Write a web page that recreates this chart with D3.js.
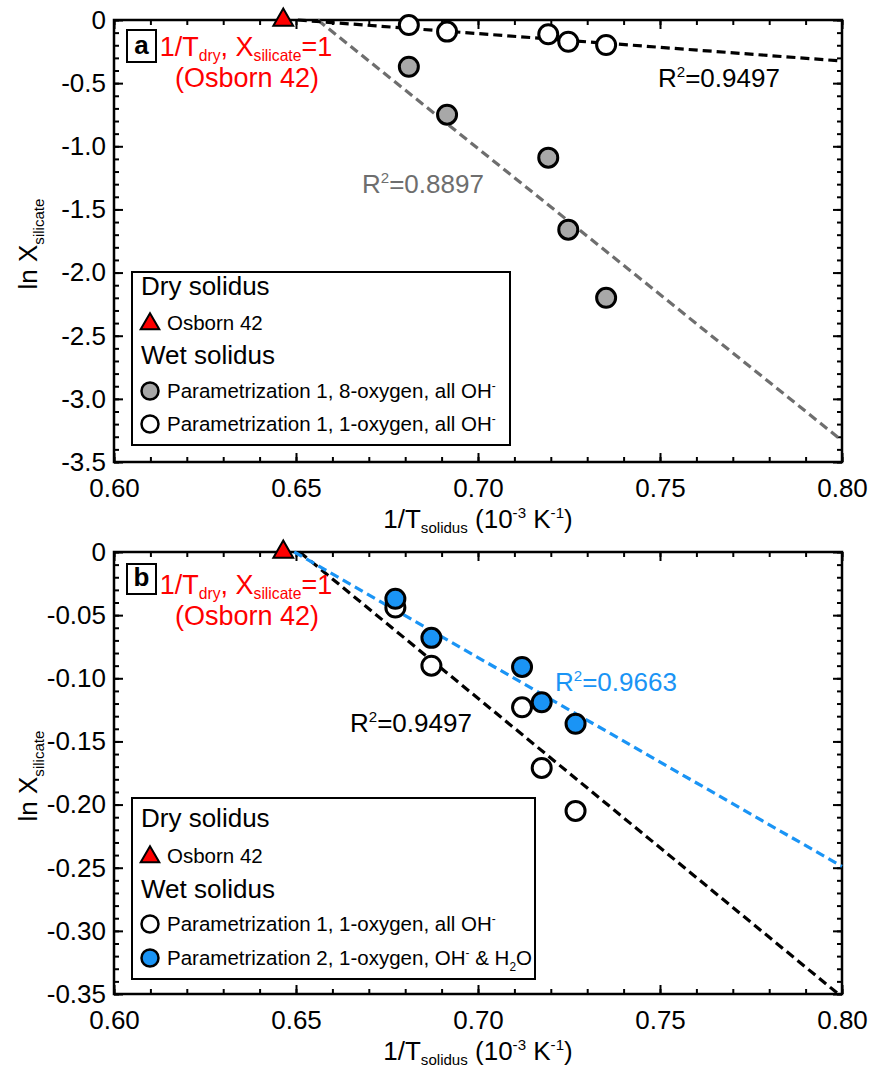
<!DOCTYPE html>
<html>
<head>
<meta charset="utf-8">
<script src="https://cdn.jsdelivr.net/npm/d3@7"></script>
<style>
  body { margin: 0; background: #fff; }
  svg { font-family: "Liberation Sans", Arial, sans-serif; }
</style>
</head>
<body>
<svg id="chart" width="870" height="1070"></svg>
<script>
// ---- data (x = 1/T solidus in 10^-3 K^-1, y = ln X silicate) ----
const dryX = [0.6465];
const dryY = [0];

// panel a
const aX = [0.6810, 0.6915, 0.7193, 0.7248, 0.7352];
const aGrayY = [-0.37, -0.75, -1.09, -1.66, -2.20];
const aOpenY = [-0.040, -0.092, -0.113, -0.172, -0.198];

// panel b
const bX = [0.6773, 0.6872, 0.7121, 0.7175, 0.7268];
const bOpenY = [-0.044, -0.090, -0.123, -0.171, -0.205];
const bBlueY = [-0.037, -0.068, -0.091, -0.119, -0.136];

// fitted lines, start and end points
const aOpenFit = [[0.6505, 0], [0.80, -0.325]];
const aGrayFit = [[0.656, 0], [0.80, -3.33]];
const bOpenFit = [[0.651, 0], [0.799, -0.35]];
const bBlueFit = [[0.6495, 0], [0.80, -0.249]];

const xTicks = [0.60, 0.65, 0.70, 0.75, 0.80];
const aYTicks = [0, -0.5, -1.0, -1.5, -2.0, -2.5, -3.0, -3.5];
const bYTicks = [0, -0.05, -0.10, -0.15, -0.20, -0.25, -0.30, -0.35];

const BLUE = "#1a94f5";
const GRAY_FILL = "#a8a8a8";
const GRAY_LINE = "#6e6e6e";

const locale = d3.formatLocale({decimal: ".", thousands: ",", grouping: [3], currency: ["", ""], minus: "-"});
const fmt2 = locale.format(".2f");
const fmt1 = locale.format(".1f");

const svg = d3.select("#chart");
const x = d3.scaleLinear().domain([0.60, 0.80]).range([114, 842]);

// text with sub / superscripts
function rich(t, parts, size, sub = 0.3) {
  let shift = 0;
  parts.forEach(([s, k]) => {
    const target = k === "sub" ? size * sub : k === "sup" ? -size * 0.4 : 0;
    t.append("tspan")
      .attr("dy", target - shift)
      .attr("font-size", k ? size * 0.58 : size)
      .text(s);
    shift = target;
  });
  return t;
}

function triangle(g, cx, cy, size) {
  g.append("path")
    .attr("d", d3.symbol(d3.symbolTriangle, size)())
    .attr("transform", `translate(${cx},${cy})`)
    .attr("fill", "#ff0000").attr("stroke", "#000").attr("stroke-width", 2);
}

function panel(cfg) {
  const g = svg.append("g");
  const y = d3.scaleLinear().domain([cfg.yTicks[cfg.yTicks.length - 1], 0]).range([cfg.bottom, cfg.top]);
  const h = cfg.bottom - cfg.top;
  const xMinor = d3.range(0, 21).map(i => 0.6 + i * 0.01);
  const yMinor = d3.range(0, 36).map(i => -i * cfg.yStep);

  const styleAxis = a => {
    a.select(".domain").remove();
    a.selectAll(".tick line").attr("stroke", "#000").attr("stroke-width", 2);
    a.selectAll("text").attr("font-size", 26).attr("fill", "#000")
      .attr("font-family", "'Liberation Sans', Arial, sans-serif");
  };

  // minor ticks
  g.append("g").attr("transform", `translate(0,${cfg.bottom})`)
    .call(d3.axisBottom(x).tickValues(xMinor).tickSize(-5).tickFormat("")).call(styleAxis);
  g.append("g").attr("transform", `translate(0,${cfg.top})`)
    .call(d3.axisTop(x).tickValues(xMinor).tickSize(-5).tickFormat("")).call(styleAxis);
  g.append("g").attr("transform", `translate(${x.range()[0]},0)`)
    .call(d3.axisLeft(y).tickValues(yMinor).tickSize(-5).tickFormat("")).call(styleAxis);
  g.append("g").attr("transform", `translate(${x.range()[1]},0)`)
    .call(d3.axisRight(y).tickValues(yMinor).tickSize(-5).tickFormat("")).call(styleAxis);

  // major ticks with labels
  g.append("g").attr("transform", `translate(0,${cfg.bottom})`)
    .call(d3.axisBottom(x).tickValues(xTicks).tickSize(-9).tickPadding(17).tickFormat(fmt2)).call(styleAxis);
  g.append("g").attr("transform", `translate(0,${cfg.top})`)
    .call(d3.axisTop(x).tickValues(xTicks).tickSize(-9).tickFormat("")).call(styleAxis);
  g.append("g").attr("transform", `translate(${x.range()[0]},0)`)
    .call(d3.axisLeft(y).tickValues(cfg.yTicks).tickSize(-9).tickPadding(8).tickFormat(cfg.yFmt)).call(styleAxis);
  g.append("g").attr("transform", `translate(${x.range()[1]},0)`)
    .call(d3.axisRight(y).tickValues(cfg.yTicks).tickSize(-9).tickFormat("")).call(styleAxis);

  // frame
  g.append("rect")
    .attr("x", x.range()[0]).attr("y", cfg.top)
    .attr("width", x.range()[1] - x.range()[0]).attr("height", h)
    .attr("fill", "none").attr("stroke", "#000").attr("stroke-width", 2.5);

  // axis titles
  rich(g.append("text").attr("x", (x.range()[0] + x.range()[1]) / 2).attr("y", cfg.bottom + 66)
    .attr("text-anchor", "middle"),
    [["1/T", ""], ["solidus", "sub"], [" (10", ""], ["-3", "sup"], [" K", ""], ["-1", "sup"], [")", ""]], 26, 0.2);
  rich(g.append("text")
    .attr("transform", `translate(37,${(cfg.top + cfg.bottom) / 2 + 3}) rotate(-90)`)
    .attr("text-anchor", "middle"),
    [["ln X", ""], ["silicate", "sub"]], 26, 0.25);

  // fit lines
  const line = d3.line().x(d => x(d[0])).y(d => y(d[1]));
  cfg.fits.forEach(f => {
    g.append("path").attr("d", line(f.pts)).attr("fill", "none")
      .attr("stroke", f.color).attr("stroke-width", 3.2).attr("stroke-dasharray", "9,5");
  });

  // points
  cfg.series.forEach(s => {
    g.selectAll(null).data(s.ys).join("circle")
      .attr("cx", (d, i) => x(s.xs[i])).attr("cy", d => y(d)).attr("r", 9.5)
      .attr("fill", s.fill).attr("stroke", "#000").attr("stroke-width", 3);
  });
  dryX.forEach((d, i) => triangle(g, x(d), y(dryY[i]), 170));

  // R^2 annotations
  cfg.notes.forEach(n => {
    rich(g.append("text").attr("x", n.x).attr("y", cfg.top + n.dy).attr("fill", n.color),
      [["R", ""], ["2", "sup"], ["=" + n.text, ""]], 26);
  });

  // panel letter
  g.append("rect").attr("x", 127).attr("y", cfg.top + cfg.box[0]).attr("width", 29).attr("height", cfg.box[1])
    .attr("fill", "#fff").attr("stroke", "#000").attr("stroke-width", 2);
  g.append("text").attr("x", 141.5).attr("y", cfg.top + cfg.box[0] + cfg.box[1] - 8)
    .attr("text-anchor", "middle").attr("font-size", 26).attr("font-weight", "bold").text(cfg.letter);

  // red dry solidus note
  rich(g.append("text").attr("x", 246).attr("y", cfg.top + cfg.red[0]).attr("text-anchor", "middle").attr("fill", "#ff0000"),
    [["1/T", ""], ["dry", "sub"], [", X", ""], ["silicate", "sub"], ["=1", ""]], 27, 0.18);
  g.append("text").attr("x", 247).attr("y", cfg.top + cfg.red[1]).attr("text-anchor", "middle")
    .attr("fill", "#ff0000").attr("font-size", 27).text("(Osborn 42)");

  // legend
  const L = cfg.legend;
  g.append("rect").attr("x", 132).attr("y", L.top).attr("width", L.width).attr("height", L.height)
    .attr("fill", "#fff").attr("stroke", "#000").attr("stroke-width", 2);
  g.append("text").attr("x", 141).attr("y", L.rows[0]).attr("font-size", 26).text("Dry solidus");
  triangle(g, 150, L.rows[1] - 6, 150);
  g.append("text").attr("x", 167).attr("y", L.rows[1]).attr("font-size", 20.5).text("Osborn 42");
  g.append("text").attr("x", 141).attr("y", L.rows[2]).attr("font-size", 26).text("Wet solidus");
  L.items.forEach((it, i) => {
    const yy = L.rows[3 + i];
    g.append("circle").attr("cx", 150).attr("cy", yy - 7).attr("r", 8.5)
      .attr("fill", it.fill).attr("stroke", "#000").attr("stroke-width", 2.5);
    rich(g.append("text").attr("x", 167).attr("y", yy), it.parts, 20.5);
  });
}

const ohAll1 = [["Parametrization 1, 1-oxygen, all OH", ""], ["-", "sup"]];

panel({
  letter: "a", top: 20, bottom: 462, yTicks: aYTicks, yStep: 0.1,
  yFmt: d => d === 0 ? "0" : fmt1(d),
  box: [10, 32], red: [36, 67],
  fits: [{pts: aGrayFit, color: GRAY_LINE}, {pts: aOpenFit, color: "#000"}],
  series: [{xs: aX, ys: aGrayY, fill: GRAY_FILL}, {xs: aX, ys: aOpenY, fill: "#fff"}],
  notes: [{x: 658, dy: 67, text: "0.9497", color: "#000"}, {x: 362, dy: 173, text: "0.8897", color: GRAY_LINE}],
  legend: {top: 272, width: 378, height: 173, rows: [295, 330, 364, 398, 431],
    items: [{fill: GRAY_FILL, parts: [["Parametrization 1, 8-oxygen, all OH", ""], ["-", "sup"]]},
            {fill: "#fff", parts: ohAll1}]}
});

panel({
  letter: "b", top: 552, bottom: 994, yTicks: bYTicks, yStep: 0.01,
  yFmt: d => d === 0 ? "0" : fmt2(d),
  box: [12, 30], red: [42, 73],
  fits: [{pts: bOpenFit, color: "#000"}, {pts: bBlueFit, color: BLUE}],
  series: [{xs: bX, ys: bOpenY, fill: "#fff"}, {xs: bX, ys: bBlueY, fill: BLUE}],
  notes: [{x: 350, dy: 180, text: "0.9497", color: "#000"}, {x: 555, dy: 139, text: "0.9663", color: BLUE}],
  legend: {top: 798, width: 403, height: 181, rows: [827, 863, 898, 931, 965],
    items: [{fill: "#fff", parts: ohAll1},
            {fill: BLUE, parts: [["Parametrization 2, 1-oxygen, OH", ""], ["-", "sup"], [" & H", ""], ["2", "sub"], ["O", ""]]}]}
});
</script>
</body>
</html>
